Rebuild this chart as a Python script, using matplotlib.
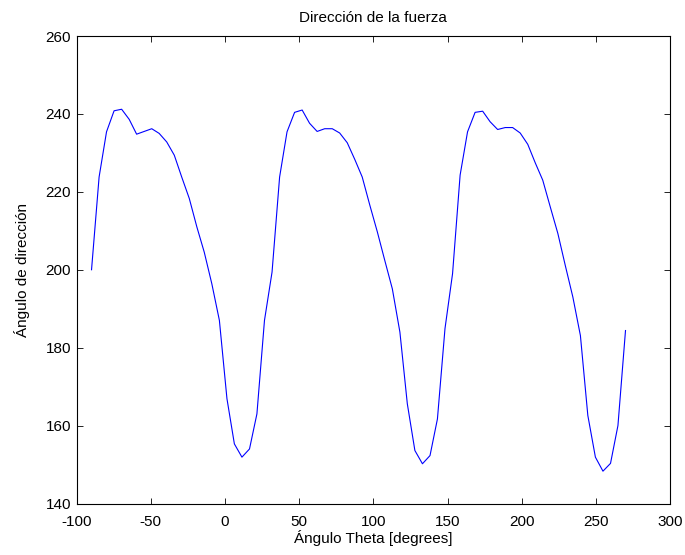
import matplotlib
matplotlib.use("Agg")
import matplotlib.pyplot as plt
from matplotlib import font_manager

theta = [-90.0, -84.9, -79.9, -74.8, -69.7, -64.6, -59.6, -54.5, -49.4, -44.4,
         -39.3, -34.2, -29.2, -24.1, -19.0, -14.0, -8.9, -3.8, 1.3, 6.3,
         11.4, 16.5, 21.5, 26.6, 31.7, 36.8, 41.8, 46.9, 52.0, 57.0,
         62.1, 67.2, 72.3, 77.3, 82.4, 87.5, 92.5, 97.6, 102.7, 107.7,
         112.8, 117.9, 122.9, 128.0, 133.1, 138.2, 143.2, 148.3, 153.4, 158.5,
         163.5, 168.6, 173.7, 178.7, 183.8, 188.9, 193.9, 199.0, 204.1, 209.2,
         214.2, 219.3, 224.4, 229.4, 234.5, 239.6, 244.6, 249.7, 254.8, 259.9,
         264.9, 270.0]
direccion = [200.0, 223.8, 235.4, 240.8, 241.2, 238.6, 234.8, 235.5, 236.2, 235.0,
             232.8, 229.4, 223.8, 218.3, 211.0, 204.5, 196.4, 187.0, 166.9, 155.3,
             151.9, 154.0, 163.0, 187.0, 199.4, 223.8, 235.4, 240.4, 241.0, 237.6,
             235.5, 236.2, 236.2, 235.1, 232.6, 228.3, 223.8, 216.6, 209.7, 202.4,
             195.1, 184.0, 165.6, 153.6, 150.2, 152.3, 161.7, 184.9, 199.0, 224.3,
             235.4, 240.4, 240.7, 238.0, 236.0, 236.5, 236.5, 235.1, 232.2, 227.4,
             223.0, 216.1, 209.3, 201.1, 193.0, 183.1, 162.6, 151.9, 148.3, 150.3,
             160.0, 184.4]
xticks = [-100, -50, 0, 50, 100, 150, 200, 250, 300]
yticks = [140, 160, 180, 200, 220, 240, 260]

names = {f.name for f in font_manager.fontManager.ttflist}
fam = 'Liberation Sans Narrow' if 'Liberation Sans Narrow' in names else 'Liberation Sans'
plt.rcParams['font.family'] = [fam, 'DejaVu Sans']
plt.rcParams['axes.unicode_minus'] = False
fs = 12.5 if fam.endswith('Narrow') else 11

W, H = 685, 555
fig = plt.figure(figsize=(W / 100, H / 100), dpi=100)
ax = fig.add_axes([76.7 / W, 1 - 503.5 / H, (670 - 76.7) / W, (503.5 - 36) / H])
ax.plot(theta, direccion, color=(0, 0, 1), linewidth=0.8)
ax.set_xlim(-100, 300)
ax.set_ylim(140, 260)
ax.set_xticks(xticks)
ax.set_yticks(yticks)
ax.tick_params(direction='in', top=True, right=True, length=4, width=0.6,
               labelsize=fs, colors='black')
ax.tick_params(axis='x', pad=8)
ax.tick_params(axis='y', pad=4)
for s in ax.spines.values():
    s.set_linewidth(0.8)
ax.set_title('Dirección de la fuerza', fontsize=fs, pad=10)
ax.set_xlabel('Ángulo Theta [degrees]', fontsize=fs, labelpad=1)
ax.set_ylabel('Ángulo de dirección', fontsize=fs, labelpad=11)
fig.savefig('out.png', dpi=100, facecolor='white')
